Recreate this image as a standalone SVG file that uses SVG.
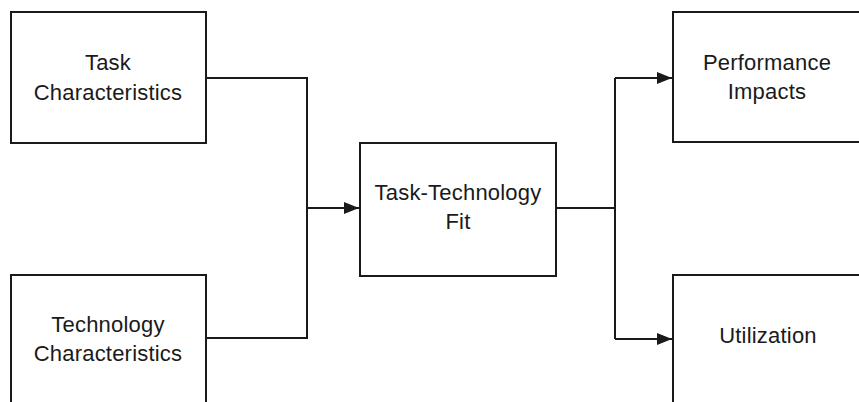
<svg xmlns="http://www.w3.org/2000/svg" width="859" height="402" viewBox="0 0 859 402">
<style>
.box{fill:#fff;stroke:#1a1a1a;stroke-width:2}
.lbl{font-family:"Liberation Sans",Arial,sans-serif;font-size:22px;letter-spacing:0.2px;fill:#1a1a1a;text-anchor:middle}
.con{fill:none;stroke:#1a1a1a;stroke-width:2}
</style>
<defs>
<marker id="arr" viewBox="0 0 15 12" refX="15" refY="6" markerWidth="15" markerHeight="12" markerUnits="userSpaceOnUse" orient="auto">
<path d="M0,0 L15,6 L0,12 z" fill="#1a1a1a"/>
</marker>
</defs>
<rect width="859" height="402" fill="#fff"/>
<g id="connectors">
<path class="con" d="M206,78 H307 V338 H206"/>
<path class="con" d="M307,208 H359" marker-end="url(#arr)"/>
<path class="con" d="M556,208 H615"/>
<path class="con" d="M615,78 V339"/>
<path class="con" d="M615,78 H672" marker-end="url(#arr)"/>
<path class="con" d="M615,339 H672" marker-end="url(#arr)"/>
</g>
<g id="task">
<rect class="box" x="11" y="12" width="195" height="131"/>
<text class="lbl" x="108" y="70">Task</text>
<text class="lbl" x="108" y="100">Characteristics</text>
</g>
<g id="technology">
<rect class="box" x="11" y="275" width="195" height="140"/>
<text class="lbl" x="108" y="332">Technology</text>
<text class="lbl" x="108" y="361">Characteristics</text>
</g>
<g id="fit">
<rect class="box" x="360" y="143" width="196" height="133"/>
<text class="lbl" x="458" y="200">Task-Technology</text>
<text class="lbl" x="458" y="229">Fit</text>
</g>
<g id="performance">
<rect class="box" x="673" y="12" width="195" height="130"/>
<text class="lbl" x="767" y="70">Performance</text>
<text class="lbl" x="767" y="99">Impacts</text>
</g>
<g id="utilization">
<rect class="box" x="673" y="275" width="195" height="140"/>
<text class="lbl" x="768" y="343">Utilization</text>
</g>
</svg>
